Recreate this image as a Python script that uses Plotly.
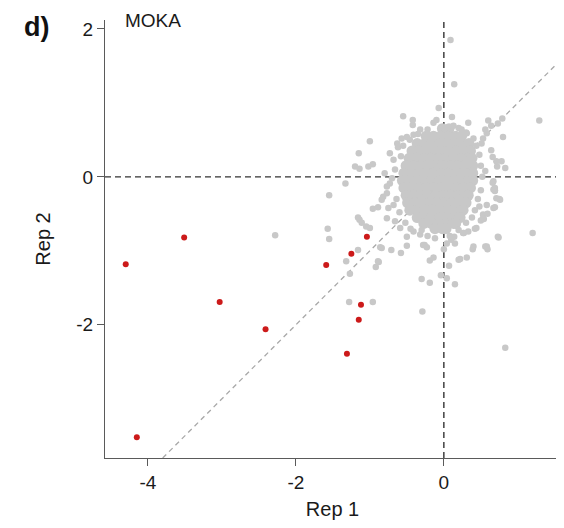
import plotly.graph_objects as go

# ---------------- data ----------------
# dense core of gray points: rows of (Rep 2 value, Rep 1 values)
core_rows = [
    (0.65, [-0.02, 0.07]),
    (0.55, [-0.24, -0.14, -0.04, 0.06, 0.16, 0.24]),
    (0.45, [-0.36, -0.26, -0.16, -0.06, 0.04, 0.14, 0.24, 0.34]),
    (0.35, [-0.43, -0.33, -0.23, -0.13, -0.03, 0.07, 0.17, 0.27, 0.36]),
    (0.25, [-0.47, -0.37, -0.27, -0.17, -0.07, 0.03, 0.13, 0.23, 0.33, 0.38]),
    (0.15, [-0.51, -0.41, -0.31, -0.21, -0.11, -0.01, 0.09, 0.19, 0.29, 0.39]),
    (0.05, [-0.54, -0.44, -0.34, -0.24, -0.14, -0.04, 0.06, 0.16, 0.26, 0.36, 0.39]),
    (-0.05, [-0.56, -0.46, -0.36, -0.26, -0.16, -0.06, 0.04, 0.14, 0.24, 0.34, 0.39]),
    (-0.15, [-0.54, -0.44, -0.34, -0.24, -0.14, -0.04, 0.06, 0.16, 0.26, 0.36]),
    (-0.25, [-0.51, -0.41, -0.31, -0.21, -0.11, -0.01, 0.09, 0.19, 0.29, 0.33]),
    (-0.35, [-0.49, -0.39, -0.29, -0.19, -0.09, 0.01, 0.11, 0.21, 0.30]),
    (-0.45, [-0.46, -0.36, -0.26, -0.16, -0.06, 0.04, 0.14, 0.24, 0.26]),
    (-0.55, [-0.36, -0.26, -0.16, -0.06, 0.04, 0.14, 0.22]),
    (-0.63, [-0.27, -0.17, -0.07, 0.03, 0.13, 0.16]),
    (-0.70, [-0.12, -0.02, 0.03]),
]

# scattered gray points around the core (Rep 1, Rep 2)
gray_rep1 = [0.09, 0.14, 1.29, -1.00, -1.15, -1.33, -1.55, -1.20, -1.14, -1.02, -0.96,
             -0.55, -0.42, -0.42, -0.07, 0.11, 0.33, 0.60, 0.80, 0.79, 0.72, 0.83,
             1.20, 0.83, -0.29, 0.15, -0.19, -0.30, 0.74, 0.56, 0.59, 0.39, 0.31, 0.20,
             0.22, 0.07, 0.04, -0.04, -0.14, -0.19, -1.57, -1.55, -1.28, -0.96, -1.27,
             -1.32, -0.89, -0.92, -1.16, -0.86, -0.71, -0.58, -0.50, -0.28, -0.23, 0.00,
             0.14, 0.15, 0.27, 0.33, 0.42, 0.50, 0.54, 0.59, 0.69, 0.75, 0.69, 0.67,
             0.66, -0.96, -0.89, -1.14, -1.11, -1.05, -1.00, -2.28, -0.88, -0.84,
             -0.63, -0.73, -0.68, -0.80, -0.73, -0.77, -0.84, -1.16,
             0.64, 0.66, 0.71, 0.78, 0.67, 0.69, 0.76, 0.58, 0.53,
             -0.14, -0.10, -0.01, 0.13, 0.24, 0.31, -0.32, -0.41, -0.50, -0.57, 0.53,
             0.58, 0.51, 0.56, 0.64, 0.73,
             -0.77, -0.82, -0.75, -0.77, -0.66, -0.59, -0.50, -0.26, -0.12, 0.04, 0.10,
             0.26, 0.40, 0.58, 0.44, 0.53, 0.73, 0.67, 0.71, 0.69, -0.41, -0.32, -0.68,
             -0.62, -0.66, -0.70, -0.64, -0.60, -0.52, -0.45, -0.30, -0.22, 0.08, 0.20,
             0.30, 0.38, 0.42, 0.46, 0.50, 0.52, 0.50, 0.48, 0.44, 0.40, 0.30, 0.20,
             -0.22, -0.35, -0.46, -0.55, -0.58, 0.56, 0.48]
gray_rep2 = [1.85, 1.25, 0.76, 0.48, 0.32, -0.09, -0.25, 0.14, 0.11, 0.14, 0.17,
             0.82, 0.77, 0.70, 0.93, 0.81, 0.73, 0.76, 0.54, 0.79, 0.14, 0.12,
             -0.76, -2.31, -1.82, -1.45, -1.43, -1.38, -0.82, -0.94, -0.98, -0.98, -1.09, -1.12,
             -1.11, -1.20, -1.37, -1.33, -1.09, -1.13, -0.70, -0.84, -1.69, -1.69, -1.31,
             -1.14, -1.14, -1.22, -0.99, -0.95, -0.99, -1.03, -0.93, -0.92, -0.95, -0.98,
             -0.81, -0.90, -0.76, -0.74, -0.70, -0.59, -0.57, -0.50, -0.41, -0.30, -0.19, -0.17,
             -0.08, -0.43, -0.41, -0.58, -0.62, -0.67, -0.69, -0.79, -1.15, -0.96,
             0.45, 0.32, 0.23, 0.05, -0.09, -0.22, -0.31, -0.55,
             0.36, 0.27, 0.21, 0.21, -0.06, -0.18, -0.31, -0.38, -0.51,
             0.73, 0.77, 0.66, 0.69, 0.64, 0.59, 0.64, 0.57, 0.54, 0.52, 0.52,
             0.59, 0.45, 0.64, 0.69, 0.72,
             -0.13, -0.27, -0.42, -0.56, -0.60, -0.69, -0.81, -0.92, -0.83, -0.90, -0.85,
             -0.76, -0.94, -0.94, -0.69, -0.56, -0.81, -0.42, -0.29, -0.15, -0.74, -0.78, -0.38,
             0.40, 0.10, -0.02, -0.30, -0.48, -0.62, -0.70, -0.72, -0.80, -0.80, -0.72,
             -0.62, -0.55, -0.45, -0.30, -0.18, 0.00, 0.15, 0.30, 0.42, 0.52, 0.60, 0.66,
             0.64, 0.58, 0.50, 0.42, 0.28, 0.08, -0.40]

# highlighted (red) points
red_rep1 = [-3.51, -4.30, -3.03, -2.41, -4.15, -1.59, -1.25, -1.04, -1.12, -1.15, -1.31]
red_rep2 = [-0.82, -1.18, -1.69, -2.06, -3.52, -1.19, -1.04, -0.81, -1.73, -1.93, -2.39]

x_ticks = [-4, -2, 0]
y_ticks = [-2, 0, 2]
x_range = [-4.58, 1.57]
y_range = [-3.80, 2.12]

# ---------------- figure ----------------
core_x = [x for _, xs in core_rows for x in xs]
core_y = [y for y, xs in core_rows for _ in xs]

GRAY = "#c8c8c8"
RED = "#cc1a1a"
FONT = "Arial, 'Liberation Sans', sans-serif"

fig = go.Figure()
fig.add_trace(go.Scatter(x=core_x, y=core_y, mode="markers",
                         marker=dict(size=11, color=GRAY), hoverinfo="skip",
                         showlegend=False))
fig.add_trace(go.Scatter(x=gray_rep1, y=gray_rep2, mode="markers",
                         marker=dict(size=6.5, color=GRAY), showlegend=False))
fig.add_trace(go.Scatter(x=red_rep1, y=red_rep2, mode="markers",
                         marker=dict(size=6, color=RED), showlegend=False))

# reference lines
fig.add_shape(type="line", xref="x", yref="y", x0=-3.8, y0=-3.8, x1=1.6, y1=1.6,
              line=dict(color="#a8a8a8", width=1.3, dash="5px,4px"), layer="below")
fig.add_shape(type="line", xref="paper", yref="y", x0=0, x1=1, y0=0, y1=0,
              line=dict(color="#333333", width=1.4, dash="6px,4px"), layer="below")
fig.add_shape(type="line", xref="x", yref="paper", x0=0, x1=0, y0=0, y1=1,
              line=dict(color="#333333", width=1.4, dash="6px,4px"), layer="below")

axis_common = dict(showgrid=False, zeroline=False, showline=True, linecolor="#5a5a5a",
                   linewidth=1.3, ticks="outside", ticklen=7, tickcolor="#5a5a5a",
                   tickwidth=1.2, automargin=False,
                   tickfont=dict(family=FONT, size=19, color="#1a1a1a"))

# the page body adds an 8px offset, so the figure is sized/margined to compensate
fig.update_layout(
    width=556, height=512,
    margin=dict(l=97, r=4, t=12, b=62),
    paper_bgcolor="white", plot_bgcolor="white",
    font=dict(family=FONT, color="#1a1a1a"),
    xaxis=dict(range=x_range, tickvals=x_ticks, ticktext=[str(v) for v in x_ticks],
               title=dict(text="Rep 1", font=dict(family=FONT, size=20), standoff=12),
               **axis_common),
    yaxis=dict(range=y_range, tickvals=y_ticks, ticktext=[str(v) for v in y_ticks],
               title=dict(text="Rep 2", font=dict(family=FONT, size=20), standoff=20),
               **axis_common),
    annotations=[
        dict(text="MOKA", xref="paper", yref="paper", x=0.039, y=1.0, xanchor="left",
             yanchor="middle", showarrow=False, font=dict(family=FONT, size=19, color="#1a1a1a")),
        dict(text="<b>d)</b>", xref="paper", yref="paper", x=-0.183, y=0.983, xanchor="left",
             yanchor="middle", showarrow=False, font=dict(family=FONT, size=27, color="#111111")),
    ],
)

fig.write_html("out.html")
